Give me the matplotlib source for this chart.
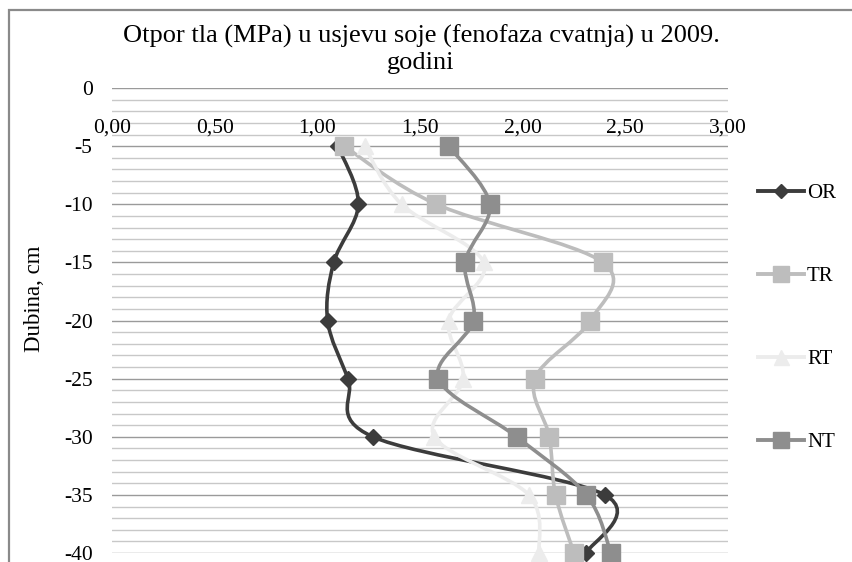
import numpy as np
import matplotlib
matplotlib.use("Agg")
from matplotlib import pyplot as plt
from matplotlib.path import Path
from matplotlib.patches import PathPatch, Rectangle
from matplotlib.lines import Line2D

plt.rcParams['font.family'] = ['Liberation Serif', 'DejaVu Serif']
plt.rcParams['axes.unicode_minus'] = False

depths = [-5, -10, -15, -20, -25, -30, -35, -40]
seriesOR = [1.10, 1.20, 1.08, 1.05, 1.15, 1.27, 2.40, 2.31]
seriesTR = [1.13, 1.58, 2.39, 2.33, 2.06, 2.13, 2.16, 2.25]
seriesRT = [1.23, 1.41, 1.81, 1.64, 1.71, 1.57, 2.03, 2.08]
seriesNT = [1.64, 1.84, 1.72, 1.76, 1.59, 1.97, 2.31, 2.43]
seriesNames = ['OR', 'TR', 'RT', 'NT']

xTicks = [0.0, 0.5, 1.0, 1.5, 2.0, 2.5, 3.0]
xTickLabels = ['0,00', '0,50', '1,00', '1,50', '2,00', '2,50', '3,00']
yTicks = [0, -5, -10, -15, -20, -25, -30, -35, -40]
yTickLabels = ['0', '-5', '-10', '-15', '-20', '-25', '-30', '-35', '-40']

TITLE = 'Otpor tla (MPa) u usjevu soje (fenofaza cvatnja) u 2009.\ngodini'
Y_LABEL = 'Dubina, cm'

COLORS = ['#3c3c3c', '#bdbdbd', '#ececec', '#8e8e8e']
MARKERS = ['D', 's', '^', 's']
MARKER_SIZES = [7.8, 12.5, 12.0, 12.5]


def smoothPath(xs, ys):
    # cubic bezier through the points, catmull-rom style like Excel's smoothed lines
    pts = np.column_stack([xs, ys])
    n = len(pts)
    verts = [pts[0]]
    codes = [Path.MOVETO]
    for i in range(n - 1):
        p0 = pts[max(i - 1, 0)]
        p1 = pts[i]
        p2 = pts[i + 1]
        p3 = pts[min(i + 2, n - 1)]
        c1 = p1 + (p2 - p0) / 6.0
        c2 = p2 - (p3 - p1) / 6.0
        verts += [c1, c2, p2]
        codes += [Path.CURVE4] * 3
    return Path(verts, codes)


fig = plt.figure(figsize=(8.52, 5.62), dpi=100)
fig.patch.set_facecolor('white')
fig.patches.append(Rectangle((9 / 852, -0.1), 1.2, 1.1 - 10 / 562, transform=fig.transFigure,
                             fill=False, edgecolor='#8a8a8a', linewidth=1.6))

ax = fig.add_axes([112 / 852, 1 - 553 / 562, (728 - 112) / 852, (553 - 88) / 562])
ax.set_xlim(0, 3)
ax.set_ylim(-40, 0)
for s in ax.spines.values():
    s.set_visible(False)

for d in range(0, -41, -1):
    major = d % 5 == 0
    ax.axhline(d, color='#9a9a9a' if major else '#c8c8c8', linewidth=1.0, zorder=0)

allSeries = [seriesOR, seriesTR, seriesRT, seriesNT]
handles = []
for vals, name, col, mk, ms in zip(allSeries, seriesNames, COLORS, MARKERS, MARKER_SIZES):
    ax.add_patch(PathPatch(smoothPath(vals, depths), facecolor='none', edgecolor=col,
                           linewidth=2.6, clip_on=False, zorder=2, capstyle='round'))
    ax.plot(vals, depths, linestyle='none', marker=mk, markersize=ms, color=col,
            markeredgecolor=col, clip_on=False, zorder=3)
    handles.append(Line2D([], [], color=col, linewidth=2.8, marker=mk,
                          markersize=ms * 0.9, markeredgecolor=col))

ax.xaxis.tick_top()
ax.set_xticks(xTicks)
ax.set_xticklabels(xTickLabels)
ax.tick_params(axis='x', length=0, pad=-36, labelsize=15.5)
ax.set_yticks(yTicks)
ax.set_yticklabels(yTickLabels)
ax.tick_params(axis='y', length=0, pad=14, labelsize=15.5)

fig.text(34 / 852, 1 - 299 / 562, Y_LABEL, rotation=90, ha='center', va='center', fontsize=16.5)
fig.text(421 / 852, 1 - 49 / 562, TITLE, ha='center', va='center', fontsize=19,
         linespacing=1.25, multialignment='center')

fig.legend(handles=handles, labels=seriesNames, loc='center left',
           bbox_to_anchor=(758 / 852, 1 - 318 / 562), frameon=False, fontsize=15,
           borderpad=0, borderaxespad=0, handlelength=2.2, handletextpad=0.15,
           labelspacing=3.05)

fig.savefig('out.png', dpi=100, facecolor='white')
